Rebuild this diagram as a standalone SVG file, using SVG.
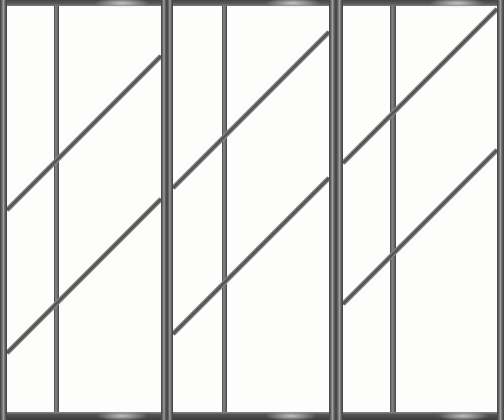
<svg xmlns="http://www.w3.org/2000/svg" width="504" height="420" viewBox="0 0 504 420">
<defs>
<linearGradient id="stile" x1="0" y1="0" x2="1" y2="0">
<stop offset="0" stop-color="#3e3e3e"/>
<stop offset="0.3" stop-color="#6e6e6e"/>
<stop offset="0.5" stop-color="#a0a0a0"/>
<stop offset="0.7" stop-color="#666"/>
<stop offset="1" stop-color="#3e3e3e"/>
</linearGradient>
<linearGradient id="bar" x1="0" y1="0" x2="1" y2="0">
<stop offset="0" stop-color="#444"/>
<stop offset="0.35" stop-color="#858585"/>
<stop offset="0.65" stop-color="#6e6e6e"/>
<stop offset="1" stop-color="#444"/>
</linearGradient>
<linearGradient id="rail" x1="0" y1="0" x2="0" y2="1">
<stop offset="0" stop-color="#444"/>
<stop offset="0.6" stop-color="#5a5a5a"/>
<stop offset="1" stop-color="#7a7a7a"/>
</linearGradient>
<linearGradient id="brail" x1="0" y1="0" x2="0" y2="1">
<stop offset="0" stop-color="#8a8a8a"/>
<stop offset="0.3" stop-color="#555"/>
<stop offset="1" stop-color="#3c3c3c"/>
</linearGradient>
<radialGradient id="glint" cx="0.5" cy="0.5" r="0.5">
<stop offset="0" stop-color="#cfcfcf" stop-opacity="0.9"/>
<stop offset="1" stop-color="#cfcfcf" stop-opacity="0"/>
</radialGradient>
</defs>
<style>
.glass{fill:#fdfdfb}
.st{fill:url(#stile)}
.vb{fill:url(#bar)}
.tr{fill:url(#rail)}
.br{fill:url(#brail)}
.gl{fill:url(#glint)}
.d1{stroke:#8a8a8a;stroke-width:5;fill:none}
.d2{stroke:#555;stroke-width:2.5;fill:none}
</style>
<rect x="0" y="0" width="504" height="420" fill="#fdfdfb"/>

<g id="panel1">
<rect class="glass" x="7" y="6" width="154" height="406"/>
<rect class="vb" x="54" y="6" width="5" height="406"/>
<path class="d1" d="M161 56 L7 210 M161 199 L7 353"/>
<path class="d2" d="M161 56 L7 210 M161 199 L7 353"/>
<rect class="tr" x="0" y="0" width="167" height="6"/>
<ellipse class="gl" cx="122" cy="3" rx="28" ry="5"/>
<rect class="br" x="0" y="412" width="167" height="8"/>
<ellipse class="gl" cx="122" cy="416" rx="26" ry="5"/>
<rect class="st" x="0" y="0" width="7" height="420"/>
<rect class="st" x="161" y="0" width="6" height="420"/>
</g>

<g id="panel2">
<rect class="glass" x="173" y="6" width="156" height="406"/>
<rect class="vb" x="222" y="6" width="5" height="406"/>
<path class="d1" d="M329 32 L173 188 M329 178 L173 334"/>
<path class="d2" d="M329 32 L173 188 M329 178 L173 334"/>
<rect class="tr" x="167" y="0" width="169" height="6"/>
<ellipse class="gl" cx="293" cy="3" rx="28" ry="5"/>
<rect class="br" x="167" y="412" width="169" height="8"/>
<ellipse class="gl" cx="291" cy="416" rx="26" ry="5"/>
<rect class="st" x="167" y="0" width="6" height="420"/>
<rect class="st" x="329" y="0" width="7" height="420"/>
</g>

<g id="panel3">
<rect class="glass" x="343" y="6" width="154" height="406"/>
<rect class="vb" x="390" y="6" width="6" height="406"/>
<path class="d1" d="M497 9 L343 163 M497 150 L343 304"/>
<path class="d2" d="M497 9 L343 163 M497 150 L343 304"/>
<rect class="tr" x="336" y="0" width="168" height="6"/>
<ellipse class="gl" cx="457" cy="3" rx="28" ry="5"/>
<rect class="br" x="336" y="412" width="168" height="8"/>
<ellipse class="gl" cx="463" cy="416" rx="26" ry="5"/>
<rect class="st" x="336" y="0" width="7" height="420"/>
<rect class="st" x="497" y="0" width="7" height="420"/>
</g>
</svg>
